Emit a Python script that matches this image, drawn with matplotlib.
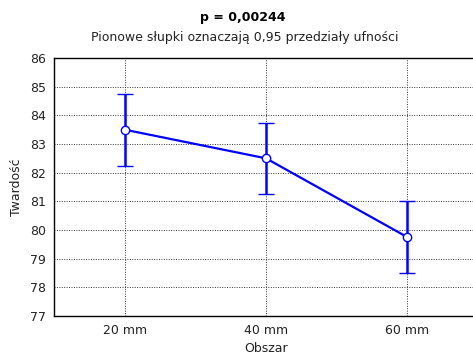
import matplotlib
matplotlib.use("Agg")
import matplotlib.pyplot as plt
import numpy as np

# data
categories = ["20 mm", "40 mm", "60 mm"]
means = [83.5, 82.5, 79.75]
upper = [84.75, 83.75, 81.0]
lower = [82.25, 81.25, 78.5]
yticks = [77, 78, 79, 80, 81, 82, 83, 84, 85, 86]

plt.rcParams['font.family'] = ['DejaVu Sans']

fig = plt.figure(figsize=(4.73, 3.58), dpi=100)
ax = fig.add_axes([54 / 473, 42 / 358, 424 / 473, 258 / 358])

x = np.arange(len(categories))
m = np.array(means)
yerr = [m - np.array(lower), np.array(upper) - m]
ax.errorbar(x, m, yerr=yerr, color='#0000ff', lw=1.6, elinewidth=1.8,
            capsize=5.5, capthick=2, marker='o', markersize=6,
            markerfacecolor='white', markeredgecolor='#0000ff',
            markeredgewidth=1, zorder=3)

ax.set_xlim(-0.5, 2.5)
ax.set_ylim(77, 86)
ax.set_xticks(x)
ax.set_xticklabels(categories)
ax.set_yticks(yticks)
ax.tick_params(labelsize=9, length=0, pad=6, colors='#222222')
ax.grid(True, color='#333333', linestyle=(0, (1, 1.5)), lw=0.7)
for s in ax.spines.values():
    s.set_linewidth(1)

ax.set_xlabel("Obszar", fontsize=9, labelpad=3, color='#222222')
ax.set_ylabel("Twardość", fontsize=9, labelpad=5, color='#222222')

fig.text(243 / 473, 1 - 17 / 358, "p = 0,00244", ha='center', va='center',
         fontsize=9, fontweight='bold')
fig.text(245 / 473, 1 - 38 / 358, "Pionowe słupki oznaczają 0,95 przedziały ufności",
         ha='center', va='center', fontsize=9, color='#222222')

fig.savefig("out.png", dpi=100)
